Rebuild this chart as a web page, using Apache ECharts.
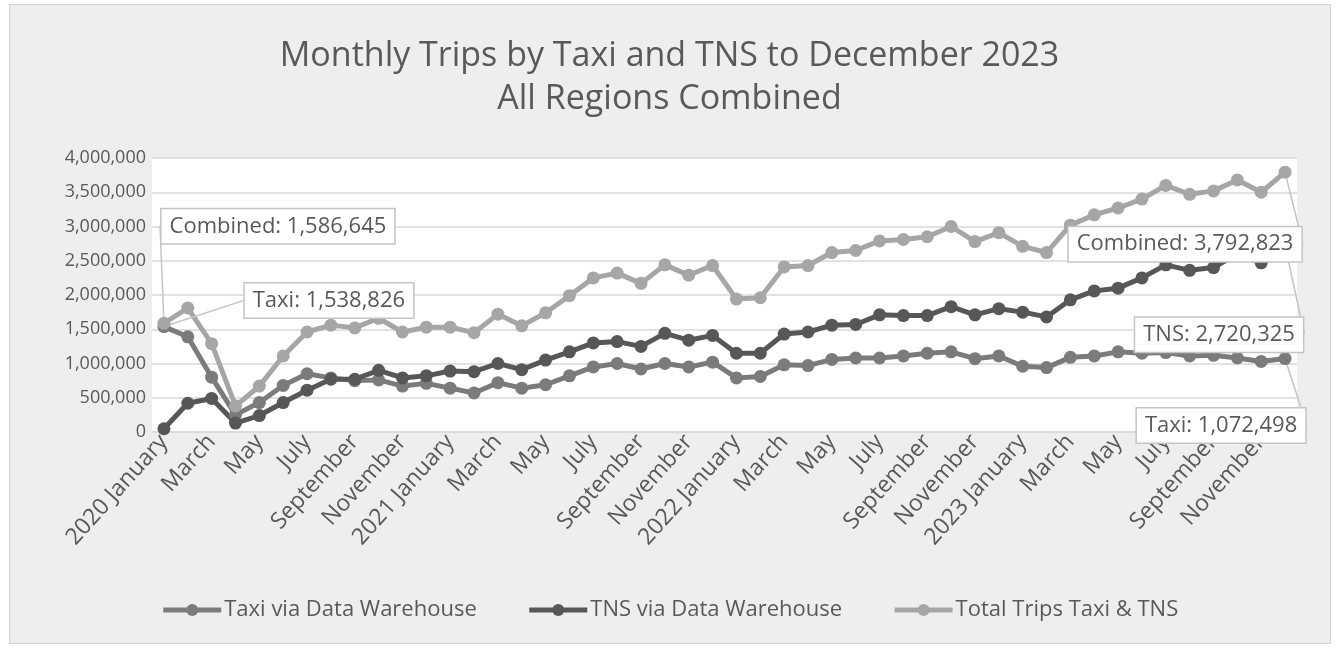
<!DOCTYPE html>
<html>
<head>
<meta charset="utf-8">
<script src="https://cdn.jsdelivr.net/npm/echarts@6/dist/echarts.min.js"></script>
<style>
html,body{margin:0;padding:0;background:#ffffff;}
#frame{position:absolute;left:9px;top:4px;width:1320px;height:638px;background:#eeeeee;border:1px solid #d4d4d4;}
#chart{position:absolute;left:0;top:0;width:1339px;height:648px;}
</style>
</head>
<body>
<div id="frame"></div>
<div id="chart"></div>
<script>
const categories = [
 '2020 January','February','March','April','May','June','July','August','September','October','November','December',
 '2021 January','February','March','April','May','June','July','August','September','October','November','December',
 '2022 January','February','March','April','May','June','July','August','September','October','November','December',
 '2023 January','February','March','April','May','June','July','August','September','October','November','December'
];
const taxi = [
 1538826,1390000,800000,250000,430000,680000,850000,790000,750000,760000,670000,710000,
 640000,570000,720000,640000,690000,820000,950000,1000000,920000,1000000,950000,1020000,
 790000,810000,980000,970000,1060000,1080000,1080000,1110000,1150000,1170000,1070000,1110000,
 960000,940000,1090000,1110000,1170000,1150000,1160000,1110000,1120000,1080000,1030000,1072498
];
const tns = [
 47819,420000,490000,130000,240000,430000,610000,770000,770000,900000,790000,820000,
 890000,880000,1000000,910000,1050000,1170000,1300000,1320000,1250000,1440000,1340000,1410000,
 1150000,1150000,1430000,1460000,1560000,1570000,1710000,1700000,1700000,1830000,1710000,1800000,
 1750000,1680000,1930000,2060000,2100000,2250000,2440000,2360000,2400000,2600000,2470000,2720325
];
const combined = [
 1586645,1810000,1290000,380000,670000,1110000,1460000,1560000,1520000,1660000,1460000,1530000,
 1530000,1450000,1720000,1550000,1740000,1990000,2250000,2320000,2170000,2440000,2290000,2430000,
 1940000,1960000,2410000,2430000,2620000,2650000,2790000,2810000,2850000,3000000,2780000,2910000,
 2710000,2620000,3020000,3170000,3270000,3400000,3600000,3470000,3520000,3680000,3500000,3792823
];
const seriesNames = ['Taxi via Data Warehouse','TNS via Data Warehouse','Total Trips Taxi & TNS'];
const yTicks = [0,500000,1000000,1500000,2000000,2500000,3000000,3500000,4000000];

const fmt = v => Number(v).toLocaleString('en-US');
const textColor = '#595959';
const font = '"Open Sans", "DejaVu Sans", sans-serif';

// which points carry callout labels, with prefix and offset from the point
const callouts = {
  0: {0: {p:'Taxi: ', dx:165, dy:-26}, 47: {p:'Taxi: ', dx:-64, dy:67}},
  1: {47: {p:'TNS: ', dx:-66, dy:89}},
  2: {0: {p:'Combined: ', dx:114, dy:-97}, 47: {p:'Combined: ', dx:-100, dy:72}}
};

function buildData(arr, si) {
  return arr.map((v, i) => {
    const c = callouts[si][i];
    if (!c) return v;
    return {value: v, label: {show: true, formatter: c.p + fmt(v)}};
  });
}

const colors = ['#7b7b7b', '#575757', '#a6a6a6'];
const labelStyle = {
  show: false, position: 'inside',
  backgroundColor: '#ffffff', borderColor: '#c4c4c4', borderWidth: 1.5,
  padding: [5, 8, 4, 8], fontSize: 22, lineHeight: 25, color: textColor, fontFamily: font
};

function mkSeries(name, arr, si) {
  return {
    name: name, type: 'line', data: buildData(arr, si),
    symbol: 'circle', symbolSize: 13, showAllSymbol: true,
    lineStyle: {width: 5, color: colors[si]},
    itemStyle: {color: colors[si]},
    label: Object.assign({}, labelStyle),
    labelLine: {show: true, lineStyle: {color: '#c4c4c4', width: 1.5}, smooth: false},
    labelLayout: function (params) {
      const c = callouts[si][params.dataIndex];
      if (!c) return {};
      return {dx: c.dx, dy: c.dy};
    },
    emphasis: {disabled: true},
    animation: false
  };
}

const chart = echarts.init(document.getElementById('chart'), null, {renderer: 'canvas'});
chart.setOption({
  backgroundColor: 'transparent',
  color: colors,
  title: {
    text: 'Monthly Trips by Taxi and TNS to December 2023\nAll Regions Combined',
    left: 'center', top: 30,
    textStyle: {fontSize: 34, fontWeight: 'normal', color: textColor, lineHeight: 43, fontFamily: font}
  },
  legend: {
    bottom: 22, left: 'center', itemWidth: 58, itemHeight: 15, itemGap: 50,
    lineStyle: {width: 5},
    itemStyle: {borderWidth: 0},
    textStyle: {fontSize: 22, color: textColor, fontFamily: font, padding: [0, 0, 0, -2]},
    data: seriesNames
  },
  grid: {left: 152, right: 42, top: 158, bottom: 216, show: true, backgroundColor: '#ffffff', borderWidth: 0},
  xAxis: {
    type: 'category', data: categories, boundaryGap: true,
    axisLine: {lineStyle: {color: '#d9d9d9', width: 1.5}},
    axisTick: {show: false},
    axisLabel: {interval: 1, rotate: 48, fontSize: 23, color: textColor, fontFamily: font, margin: 6}
  },
  yAxis: {
    type: 'value', min: 0, max: 4000000, interval: 500000,
    axisLine: {show: false}, axisTick: {show: false},
    axisLabel: {fontSize: 18, color: textColor, fontFamily: font, margin: 6,
      formatter: v => yTicks.indexOf(v) >= 0 ? fmt(v) : ''},
    splitLine: {lineStyle: {color: '#d9d9d9', width: 1.5}}
  },
  series: [mkSeries(seriesNames[0], taxi, 0), mkSeries(seriesNames[1], tns, 1), mkSeries(seriesNames[2], combined, 2)]
});
</script>
</body>
</html>
